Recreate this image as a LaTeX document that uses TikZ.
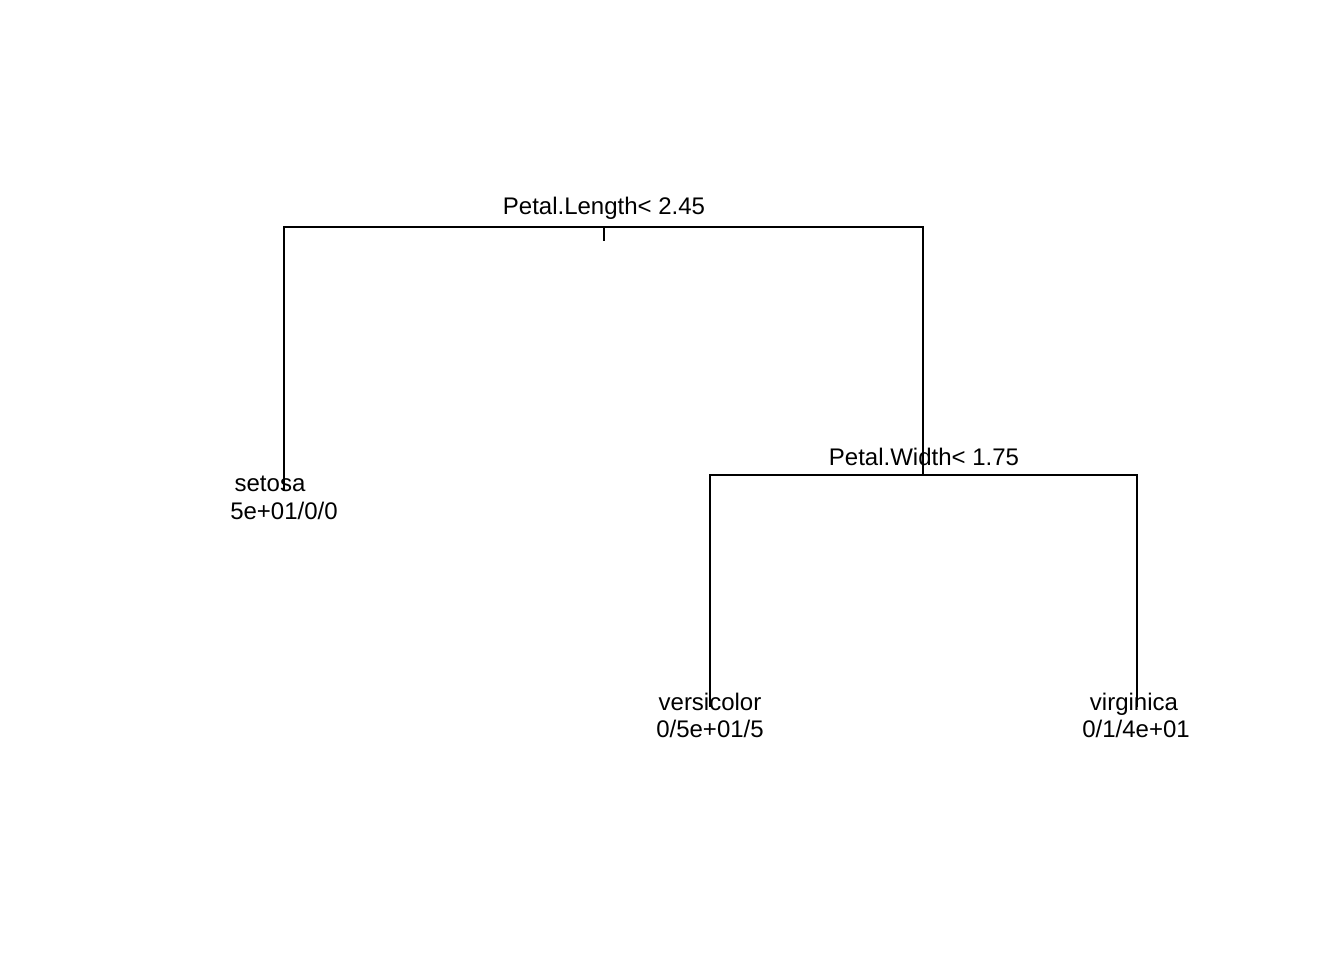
\documentclass[tikz,border=0pt]{standalone}
\usepackage{fontspec}
\setmainfont{Liberation Sans}
\begin{document}
\begin{tikzpicture}[x=0.5pt,y=-0.5pt,
  edge/.style={line width=1pt,line cap=butt},
  lbl/.style={anchor=base,inner sep=0pt,font=\fontsize{12}{14}\selectfont}]
\useasboundingbox (0,0) rectangle (1344,960);
% tree node positions
\coordinate (root) at (604,227);
\coordinate (L) at (284,491);
\coordinate (R) at (923,475);
\coordinate (RL) at (710,707);
\coordinate (RR) at (1137,707);
% connectors
\draw[edge] (L) |- (root) -| (R);
\draw[edge] (root) -- ++(0,14);
\draw[edge] (RL) |- (R) -| (RR);
% labels
\node[lbl] (s1) at (604,214) {Petal.Length< 2.45};
\node[lbl] (s2) at (924,465) {Petal.Width< 1.75};
\node[lbl] (l1a) at (270,491) {setosa};
\node[lbl] (l1b) at (284,519) {5e+01/0/0};
\node[lbl] (l2a) at (710,710) {versicolor};
\node[lbl] (l2b) at (710,737) {0/5e+01/5};
\node[lbl] (l3a) at (1134,710) {virginica};
\node[lbl] (l3b) at (1136,737) {0/1/4e+01};
\end{tikzpicture}
\end{document}
